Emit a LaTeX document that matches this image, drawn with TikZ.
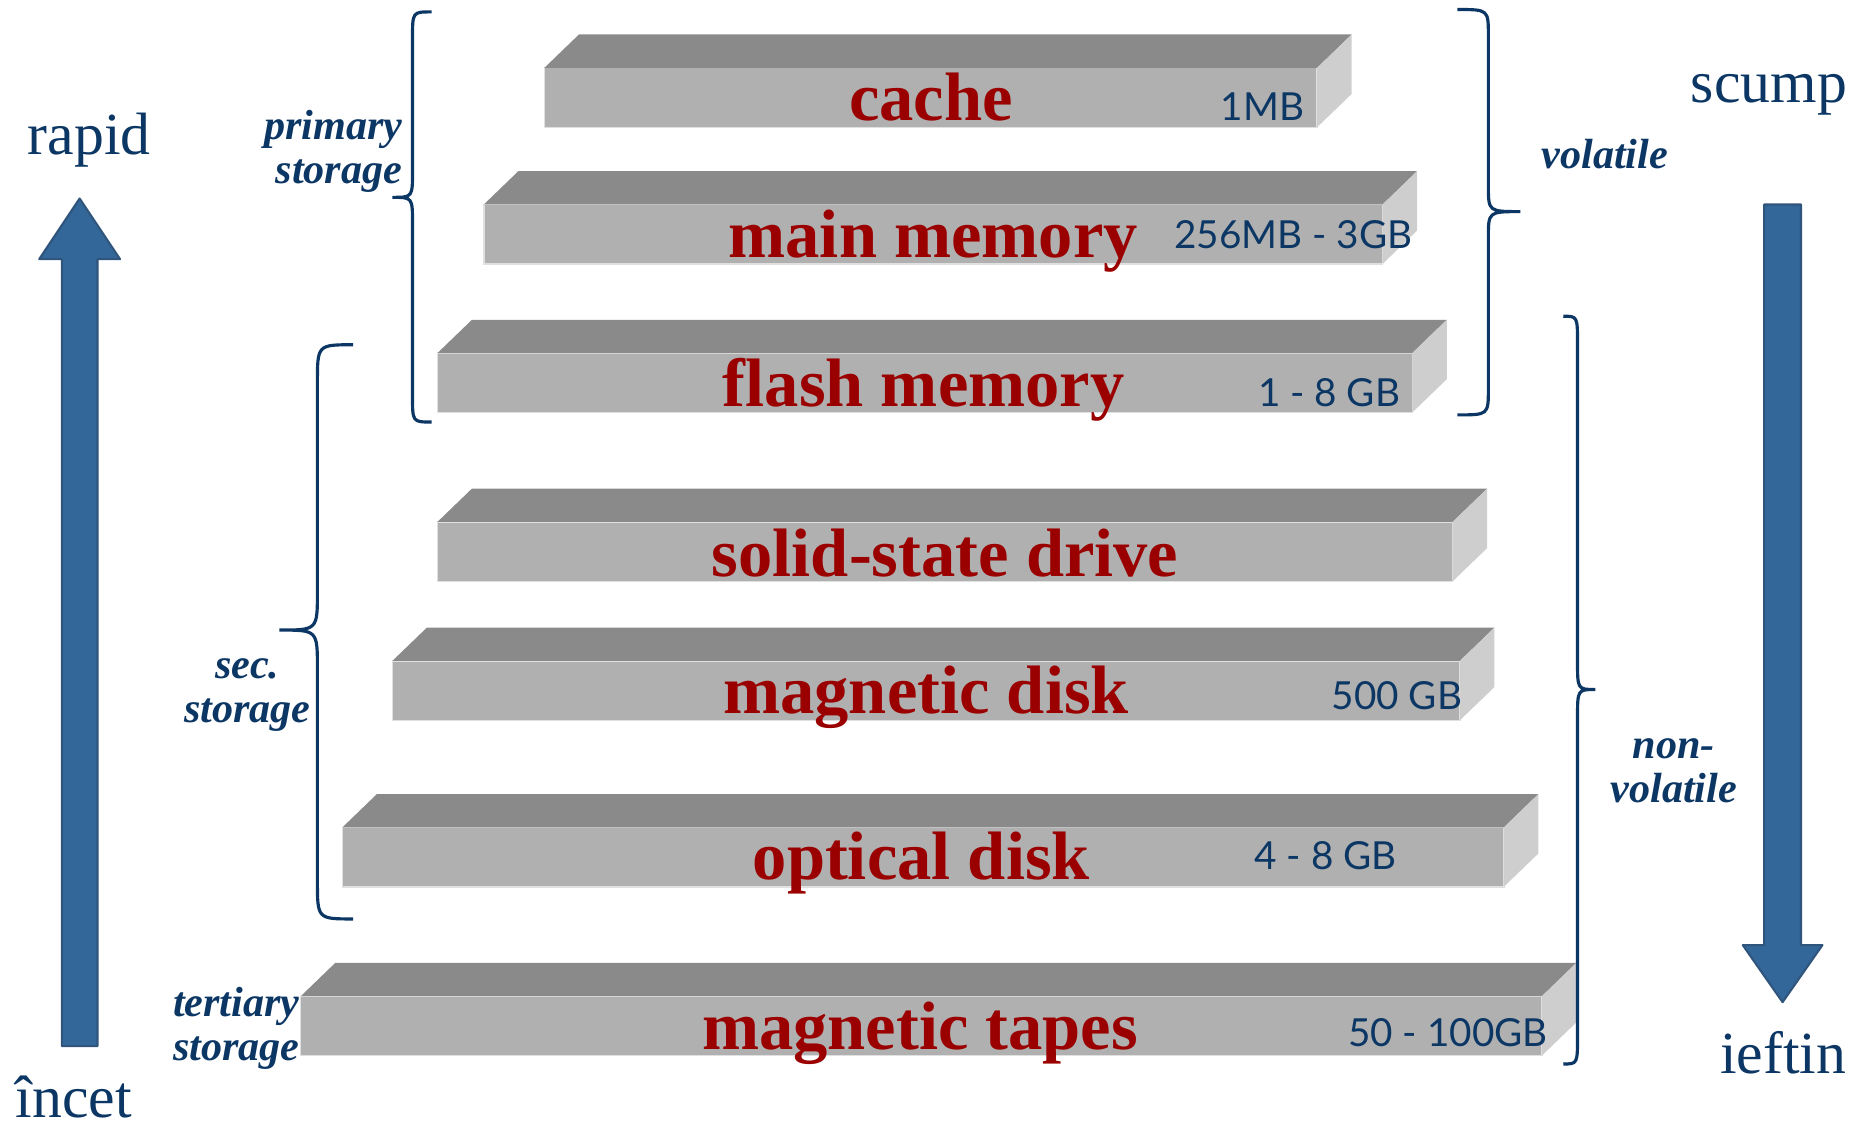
\documentclass[tikz,border=0pt]{standalone}
\usepackage{fontspec}
\setmainfont{Liberation Serif}
\newfontfamily\capfont{Lato}

\definecolor{barfront}{HTML}{B0B0B0}
\definecolor{bartop}{HTML}{8A8A8A}
\definecolor{barside}{HTML}{CECECE}
\definecolor{labelred}{HTML}{9B0000}
\definecolor{navy}{HTML}{0C3765}
\definecolor{arrowblue}{HTML}{336699}

\tikzset{
    barname/.style={anchor=base, inner sep=0pt, text=labelred, font=\fontsize{19.5}{22}\selectfont\bfseries},
    barsize/.style={anchor=base, inner sep=0pt, text=navy, font=\capfont\fontsize{11}{13}\selectfont},
    kind/.style={inner sep=0pt, text=navy, font=\fontsize{12}{12.5}\selectfont\bfseries\itshape},
    speed/.style={anchor=base, inner sep=0pt, text=navy, font=\fontsize{17}{20}\selectfont},
    curlyline/.style={draw=navy, line width=0.9pt},
    bigarrow/.style={fill=arrowblue, draw=navy!85, line width=0.6pt, line join=round},
}

% one storage level: front left x, front right x, front top y, front bottom y
\newcommand{\storebar}[4]{
    \filldraw[fill=barfront, draw=black!12, line width=0.4pt] (#1,#3) rectangle (#2,#4);
    \fill[bartop] (#1,#3) -- ++(29,-28) -- (#2+29,#3-28) -- (#2,#3) -- cycle;
    \fill[barside] (#2,#3) -- ++(29,-28) -- (#2+29,#4-28) -- (#2,#4) -- cycle;
}

% curly bracket: ends x, spine x, tip x, top y, tip y, bottom y, radius
\newcommand{\curly}[7]{
    \draw[curlyline] (#1,#4) .. controls (#2,#4) .. (#2,#4+#7) -- (#2,#5-#7)
        .. controls (#2,#5) .. (#3,#5) .. controls (#2,#5) .. (#2,#5+#7)
        -- (#2,#6-#7) .. controls (#2,#6) .. (#1,#6);
}

\begin{document}
\begin{tikzpicture}[x=0.11888mm, y=-0.11888mm]
        \useasboundingbox (0,0) rectangle (1568,947);

        % storage levels
        \storebar{458}{1108}{57}{107}
        \storebar{407}{1163}{172}{222}
        \storebar{368}{1188}{297}{347}
        \storebar{368}{1222}{439}{489}
        \storebar{330}{1228}{556}{606}
        \storebar{288}{1265}{696}{746}
        \storebar{253}{1297}{838}{888}

        \node[barname] (cache) at (783,101) {cache};
        \node[barname] (mainmem) at (785,217) {main memory};
        \node[barname] (flash) at (777,342) {flash memory};
        \node[barname] (ssd) at (795,485) {solid-state drive};
        \node[barname] (magdisk) at (779,600) {magnetic disk};
        \node[barname] (optdisk) at (775,740) {optical disk};
        \node[barname] (tapes) at (774,883) {magnetic tapes};

        \node[barsize] (cachesz) at (1062,101) {1MB};
        \node[barsize] (mainsz) at (1088,209) {256MB - 3GB};
        \node[barsize] (flashsz) at (1118,342) {1 - 8 GB};
        \node[barsize] (disksz) at (1175,597) {500 GB};
        \node[barsize] (optsz) at (1115,731) {4 - 8 GB};
        \node[barsize] (tapesz) at (1218,880) {50 - 100GB};

        % brackets and their labels
        \curly{363}{347}{330}{10}{166}{355}{22}
        \curly{1226}{1252}{1279}{8}{178}{349}{22}
        \curly{1315}{1327}{1342}{266}{580}{895}{24}
        \curly{297}{267}{235}{290}{530}{773}{32}

        \node[kind, align=right, anchor=east] (primary) at (339,127) {primary\\storage};
        \node[kind] (volatile) at (1350,130) {volatile};
        \node[kind, align=center] (secst) at (208,585) {sec.\\storage};
        \node[kind, align=center] (nonvol) at (1408,648) {non-\\volatile};
        \node[kind, align=left, anchor=west] (tertiary) at (145,865) {tertiary\\storage};

        % speed and cost arrows
        \filldraw[bigarrow] (52,880) -- (52,218) -- (33,218) -- (67,167) -- (101,218) -- (82,218) -- (82,880) -- cycle;
        \filldraw[bigarrow] (1484,172) -- (1484,795) -- (1466,795) -- (1499.5,843) -- (1533,795) -- (1515,795) -- (1515,172) -- cycle;

        \node[speed] (rapid) at (75,130) {rapid};
        \node[speed] (incet) at (62,940) {încet};
        \node[speed] (scump) at (1488,86) {scump};
        \node[speed] (ieftin) at (1500,903) {ieftin};
\end{tikzpicture}
\end{document}
